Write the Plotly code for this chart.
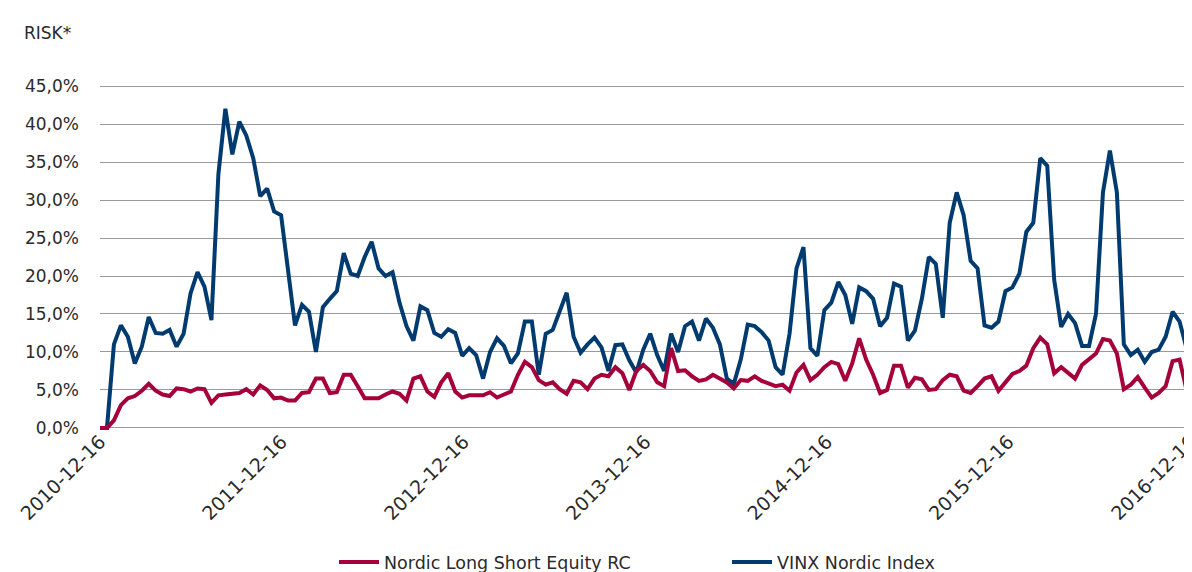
import pandas as pd
import plotly.graph_objects as go

# Fortnightly observation dates (x categories)
dates = pd.date_range("2010-12-16", periods=157, freq="14D")

# VINX Nordic Index risk (%)
vinx = [
    0.0, 0.0, 11.0, 13.5, 12.0, 8.5, 10.7, 14.6, 12.5, 12.4,
    12.9, 10.7, 12.4, 17.7, 20.5, 18.6, 14.2, 33.4, 42.0, 36.0,
    40.3, 38.5, 35.5, 30.5, 31.5, 28.5, 28.0, 21.0, 13.5, 16.2,
    15.3, 10.0, 15.9, 17.0, 18.0, 23.0, 20.3, 20.0, 22.5, 24.5,
    21.0, 20.0, 20.5, 16.5, 13.4, 11.5, 16.0, 15.5, 12.5, 12.0,
    13.0, 12.5, 9.5, 10.5, 9.6, 6.5, 10.0, 11.8, 10.8, 8.5,
    9.8, 14.0, 14.0, 7.0, 12.4, 12.9, 15.5, 17.8, 12.0, 9.9,
    11.0, 11.9, 10.6, 7.5, 10.9, 11.0, 8.9, 7.3, 10.3, 12.4,
    9.6, 7.5, 12.4, 10.0, 13.4, 14.0, 11.5, 14.4, 13.2, 11.0,
    6.5, 5.8, 9.0, 13.6, 13.4, 12.6, 11.5, 8.0, 7.0, 12.4,
    21.0, 23.8, 10.5, 9.5, 15.5, 16.5, 19.2, 17.5, 13.7, 18.5,
    18.0, 17.0, 13.4, 14.5, 19.0, 18.6, 11.5, 12.8, 17.0, 22.5,
    21.6, 14.5, 27.0, 31.0, 28.0, 22.0, 21.0, 13.5, 13.2, 14.0,
    18.0, 18.5, 20.3, 25.8, 27.0, 35.5, 34.5, 19.5, 13.3, 15.0,
    13.8, 10.8, 10.8, 15.0, 31.0, 36.5, 31.0, 11.0, 9.6, 10.3,
    8.7, 10.0, 10.3, 12.0, 15.3, 14.0, 10.5,
]

# Nordic Long Short Equity RC risk (%)
nordic_ls = [
    0.0, 0.0, 1.0, 3.0, 3.9, 4.2, 4.9, 5.8, 4.9, 4.4,
    4.2, 5.2, 5.1, 4.8, 5.2, 5.1, 3.3, 4.3, 4.4, 4.5,
    4.6, 5.1, 4.4, 5.6, 5.0, 3.9, 4.0, 3.6, 3.6, 4.6,
    4.7, 6.5, 6.5, 4.6, 4.7, 7.0, 7.0, 5.5, 3.9, 3.9,
    3.9, 4.4, 4.8, 4.5, 3.6, 6.5, 6.8, 4.8, 4.1, 6.0,
    7.2, 4.8, 4.0, 4.3, 4.3, 4.3, 4.7, 4.0, 4.4, 4.8,
    7.0, 8.7, 8.0, 6.3, 5.7, 6.0, 5.1, 4.5, 6.2, 6.0,
    5.1, 6.5, 7.0, 6.8, 8.0, 7.2, 5.0, 7.5, 8.3, 7.5,
    6.0, 5.5, 10.5, 7.5, 7.6, 6.8, 6.2, 6.4, 7.0, 6.5,
    6.0, 5.2, 6.3, 6.2, 6.8, 6.2, 5.8, 5.5, 5.7, 4.9,
    7.3, 8.3, 6.3, 7.0, 8.0, 8.7, 8.4, 6.2, 8.5, 11.8,
    9.0, 7.0, 4.6, 5.0, 8.2, 8.2, 5.3, 6.6, 6.4, 5.0,
    5.1, 6.3, 7.0, 6.8, 4.9, 4.6, 5.5, 6.5, 6.8, 4.9,
    6.0, 7.1, 7.5, 8.2, 10.5, 11.9, 11.0, 7.2, 8.0, 7.3,
    6.5, 8.3, 9.0, 9.8, 11.7, 11.5, 9.8, 5.1, 5.7, 6.7,
    5.3, 4.0, 4.6, 5.5, 8.8, 9.0, 5.0,
]

y_ticks = [0, 5, 10, 15, 20, 25, 30, 35, 40, 45]
y_labels = ["0,0%", "5,0%", "10,0%", "15,0%", "20,0%", "25,0%",
            "30,0%", "35,0%", "40,0%", "45,0%"]
x_ticks = ["2010-12-16", "2011-12-16", "2012-12-16", "2013-12-16",
           "2014-12-16", "2015-12-16", "2016-12-16"]

BLUE = "#003B6F"
RED = "#A5003A"
FONT = "DejaVu Sans"
TXT = "#2a2a2a"

fig = go.Figure()
fig.add_trace(go.Scatter(x=dates, y=vinx, mode="lines", name="VINX Nordic Index",
                         line=dict(color=BLUE, width=4)))
fig.add_trace(go.Scatter(x=dates, y=nordic_ls, mode="lines", name="Nordic Long Short Equity RC",
                         line=dict(color=RED, width=4)))

fig.update_layout(
    width=1184, height=564,
    margin=dict(l=92, r=0, t=75, b=141, autoexpand=False),
    paper_bgcolor="white", plot_bgcolor="white",
    font=dict(family=FONT, size=17, color=TXT),
    showlegend=True,
    legend=dict(orientation="h", traceorder="reversed",
                x=0.2143, xanchor="left", y=-0.377, yanchor="middle",
                font=dict(family=FONT, size=17.5, color=TXT),
                entrywidth=338, itemwidth=40),
    annotations=[dict(text="RISK*", xref="paper", yref="paper",
                      x=-0.0714, y=1.144, xanchor="left", yanchor="middle",
                      showarrow=False, font=dict(family=FONT, size=17, color=TXT))],
)
fig.update_yaxes(range=[-0.4, 45.4], tickvals=y_ticks, ticktext=y_labels,
                 showgrid=True, gridcolor="#9A9A9A", gridwidth=1,
                 zeroline=False, showline=False, ticks="",
                 ticklabelstandoff=20,
                 tickfont=dict(family=FONT, size=17, color=TXT))
fig.update_xaxes(type="date", range=["2010-12-16", "2016-12-19"],
                 tickvals=x_ticks, ticktext=x_ticks, tickangle=-45,
                 showgrid=False, zeroline=False, showline=False, ticks="",
                 ticklabelstandoff=-5, ticklabeloverflow="allow",
                 tickfont=dict(family=FONT, size=19, color=TXT))

fig.write_html("out.html")
